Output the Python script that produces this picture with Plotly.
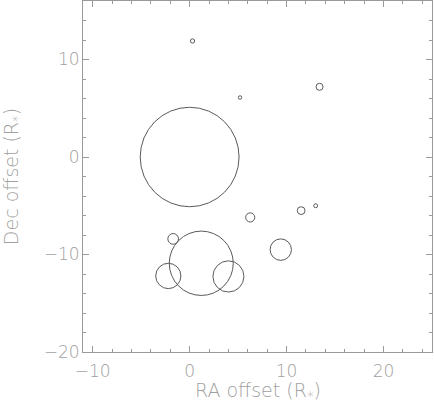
import plotly.graph_objects as go

# circle centres (RA, Dec offsets in R*) and radii
ra_off = [0.0, 1.2, -2.2, 4.0, -1.7, 9.4, 6.25, 11.5, 13.0, 0.3, 5.2, 13.4]
dec_off = [0.0, -10.9, -12.2, -12.25, -8.4, -9.5, -6.2, -5.5, -5.0, 11.9, 6.1, 7.2]
radius = [5.1, 3.3, 1.3, 1.6, 0.55, 1.1, 0.47, 0.4, 0.2, 0.22, 0.18, 0.36]

x_range = [-11, 25]
y_range = [-20, 16]
x_ticks = [-10, 0, 10, 20]
y_ticks = [-20, -10, 0, 10]

AX = "#9a9a9a"
FONT = dict(family="DejaVu Sans", size=17, color="#a0a0a0", weight=200)
TFONT = dict(family="DejaVu Sans", size=19, color="#a0a0a0", weight=200)

fig = go.Figure()
# invisible trace to establish the axes
fig.add_trace(go.Scatter(x=ra_off, y=dec_off, mode="markers",
                         marker=dict(size=1, opacity=0), hoverinfo="skip",
                         showlegend=False))

for cx, cy, r in zip(ra_off, dec_off, radius):
    fig.add_shape(type="circle", xref="x", yref="y",
                  x0=cx - r, x1=cx + r, y0=cy - r, y1=cy + r,
                  line=dict(color="#5a5a5a", width=1))

axis_common = dict(
    showgrid=False, zeroline=False, showline=True, linecolor=AX, linewidth=1,
    mirror="ticks", ticks="inside", ticklen=6, tickcolor=AX, tickwidth=1,
    tickfont=FONT,
    minor=dict(ticks="inside", ticklen=3, tickcolor=AX, tickwidth=1, dtick=2,
               showgrid=False),
)

fig.update_xaxes(range=x_range, tickvals=x_ticks, ticklabelstandoff=4,
                 **axis_common)
fig.update_yaxes(range=y_range, tickvals=y_ticks, ticklabelstandoff=-1,
                 title=dict(text="Dec offset (R<sub>*</sub>)", font=TFONT, standoff=26),
                 **axis_common)

fig.add_annotation(text="RA offset (R<sub>*</sub>)", font=TFONT, showarrow=False,
                   xref="paper", yref="paper", x=0.5, y=0, xanchor="center",
                   yanchor="middle", yshift=-39)

fig.update_layout(
    width=434, height=404,
    margin=dict(l=83, r=2, t=1, b=52, autoexpand=False),
    paper_bgcolor="white", plot_bgcolor="white",
    showlegend=False,
)
fig.update_xaxes(automargin=False)
fig.update_yaxes(automargin=False)

fig.write_html("out.html", config={"displayModeBar": False},
               post_script="document.body.style.margin='0';document.body.style.padding='0';")
